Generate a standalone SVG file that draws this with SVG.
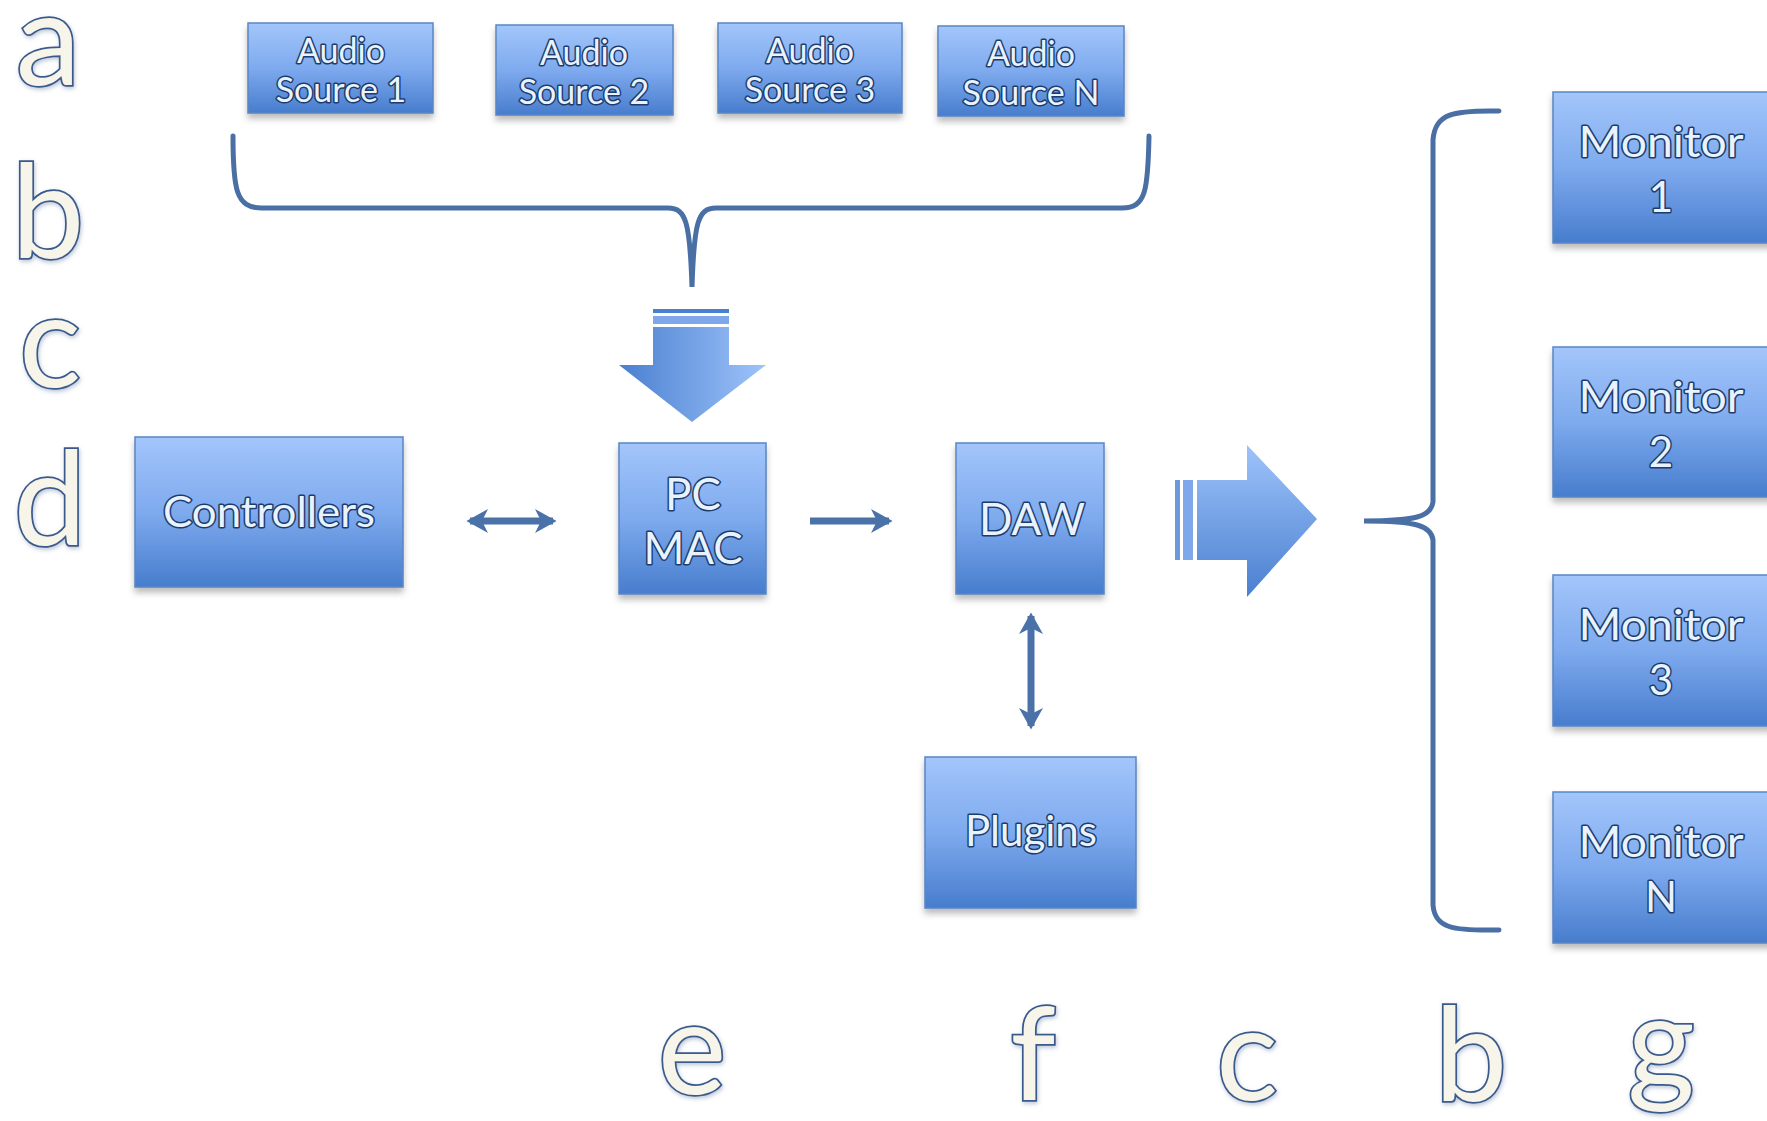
<svg xmlns="http://www.w3.org/2000/svg" width="1767" height="1121" viewBox="0 0 1767 1121">
<defs>
<linearGradient id="boxg" x1="0" y1="0" x2="0" y2="1">
<stop offset="0" stop-color="#a3c6fb"/>
<stop offset="0.5" stop-color="#7eaaee"/>
<stop offset="1" stop-color="#477dcd"/>
</linearGradient>
<linearGradient id="downg" x1="0" y1="0" x2="1" y2="0">
<stop offset="0" stop-color="#4a80d0"/>
<stop offset="1" stop-color="#9ec3fa"/>
</linearGradient>
<linearGradient id="rightg" x1="0" y1="0" x2="0" y2="1">
<stop offset="0" stop-color="#9ec3fa"/>
<stop offset="1" stop-color="#4a80d0"/>
</linearGradient>
<filter id="sh" x="-10%" y="-10%" width="120%" height="130%">
<feDropShadow dx="0" dy="5" stdDeviation="3" flood-color="#6b6b6b" flood-opacity="0.45"/>
</filter>
<filter id="lsh" x="-20%" y="-20%" width="140%" height="140%">
<feDropShadow dx="1" dy="2" stdDeviation="2" flood-color="#7a8fb0" flood-opacity="0.5"/>
</filter>
<marker id="ah" viewBox="0 0 20 20" refX="15" refY="10" markerWidth="24" markerHeight="24" markerUnits="userSpaceOnUse" orient="auto-start-reverse">
<path d="M0,0 L18,10 L0,20 L5,10 z" fill="#4a72a8"/>
</marker>
<style>
.box{fill:url(#boxg);stroke:#5a86c4;stroke-width:1.5;filter:url(#sh)}
.bt{font-family:Lato,"Open Sans","Liberation Sans",sans-serif;fill:#e8f3ff;stroke:#1d3c6c;stroke-width:3;paint-order:stroke fill;text-anchor:middle;stroke-linejoin:round}
.lt{font-family:Lato,"Open Sans","Liberation Sans",sans-serif;font-size:130px;fill:#f7f5ea;stroke:#3a5a8c;stroke-width:3.5;paint-order:stroke fill;text-anchor:middle;filter:url(#lsh)}
.br{fill:none;stroke:#4a6fa5;stroke-width:5;stroke-linecap:round}
.con{fill:none;stroke:#4a72a8;stroke-width:7;marker-start:url(#ah);marker-end:url(#ah)}
.one{fill:none;stroke:#4a72a8;stroke-width:7;marker-end:url(#ah)}
</style>
</defs>
<rect width="1767" height="1121" fill="#ffffff"/>

<g id="letters">
<text class="lt" x="48" y="85">a</text>
<text class="lt" x="48" y="257">b</text>
<text class="lt" x="50" y="387">c</text>
<text class="lt" x="50" y="544">d</text>
<text class="lt" x="692" y="1094">e</text>
<text class="lt" x="1033" y="1100">f</text>
<text class="lt" x="1247" y="1100">c</text>
<text class="lt" x="1471" y="1100">b</text>
<text class="lt" x="1661" y="1088">g</text>
</g>

<g id="connectors">
<path class="br" d="M233,136 C233,190 236,208 262,208 L668,208 C686,208 690,222 692,287 C694,222 698,208 716,208 L1122,208 C1146,208 1148,190 1149,136"/>
<path class="br" d="M1499,111 C1452,110 1435,114 1433,140 L1433,502 C1431,516 1418,521 1364,521 C1418,521 1431,526 1433,540 L1433,905 C1435,928 1452,931 1499,930"/>
<line class="con" x1="470" y1="521" x2="553" y2="521"/>
<line class="one" x1="810" y1="521" x2="889" y2="521"/>
<line class="con" x1="1031" y1="616" x2="1031" y2="726"/>
<g id="downArrow">
<rect x="653" y="309" width="76" height="4" fill="#4a80d0"/>
<rect x="653" y="316" width="76" height="8" fill="#7ea8ea"/>
<polygon points="653,327 729,327 729,365 766,365 692,422 619,365 653,365" fill="url(#downg)"/>
</g>
<g id="rightArrow">
<rect x="1175" y="480" width="5" height="80" fill="#6d98dc"/>
<rect x="1183" y="480" width="10" height="80" fill="#7ea8ea"/>
<polygon points="1197,480 1247,480 1247,445 1317,519 1247,597 1247,560 1197,560" fill="url(#rightg)"/>
</g>
</g>

<g id="src1"><rect class="box" x="248" y="23" width="185" height="90"/>
<text class="bt" font-size="34" x="341" y="63">Audio</text>
<text class="bt" font-size="34" x="341" y="102">Source 1</text></g>
<g id="src2"><rect class="box" x="496" y="25" width="177" height="90"/>
<text class="bt" font-size="34" x="584" y="65">Audio</text>
<text class="bt" font-size="34" x="584" y="104">Source 2</text></g>
<g id="src3"><rect class="box" x="718" y="23" width="184" height="90"/>
<text class="bt" font-size="34" x="810" y="63">Audio</text>
<text class="bt" font-size="34" x="810" y="102">Source 3</text></g>
<g id="srcN"><rect class="box" x="938" y="26" width="186" height="90"/>
<text class="bt" font-size="34" x="1031" y="66">Audio</text>
<text class="bt" font-size="34" x="1031" y="105">Source N</text></g>

<g id="controllers"><rect class="box" x="135" y="437" width="268" height="150"/>
<text class="bt" font-size="42" x="269" y="527" textLength="212" lengthAdjust="spacingAndGlyphs">Controllers</text></g>
<g id="pcmac"><rect class="box" x="619" y="443" width="147" height="151"/>
<text class="bt" font-size="44" x="693" y="510">PC</text>
<text class="bt" font-size="44" x="693" y="564">MAC</text></g>
<g id="daw"><rect class="box" x="956" y="443" width="148" height="151"/>
<text class="bt" font-size="44" x="1032" y="535">DAW</text></g>
<g id="plugins"><rect class="box" x="925" y="757" width="211" height="151"/>
<text class="bt" font-size="42" x="1031" y="846">Plugins</text></g>

<g id="mon1"><rect class="box" x="1553" y="92" width="220" height="151"/>
<text class="bt" font-size="42" x="1661" y="157" textLength="165" lengthAdjust="spacingAndGlyphs">Monitor</text>
<text class="bt" font-size="42" x="1661" y="212">1</text></g>
<g id="mon2"><rect class="box" x="1553" y="347" width="220" height="150"/>
<text class="bt" font-size="42" x="1661" y="412" textLength="165" lengthAdjust="spacingAndGlyphs">Monitor</text>
<text class="bt" font-size="42" x="1661" y="467">2</text></g>
<g id="mon3"><rect class="box" x="1553" y="575" width="220" height="151"/>
<text class="bt" font-size="42" x="1661" y="640" textLength="165" lengthAdjust="spacingAndGlyphs">Monitor</text>
<text class="bt" font-size="42" x="1661" y="695">3</text></g>
<g id="monN"><rect class="box" x="1553" y="792" width="220" height="151"/>
<text class="bt" font-size="42" x="1661" y="857" textLength="165" lengthAdjust="spacingAndGlyphs">Monitor</text>
<text class="bt" font-size="42" x="1661" y="912">N</text></g>
</svg>
